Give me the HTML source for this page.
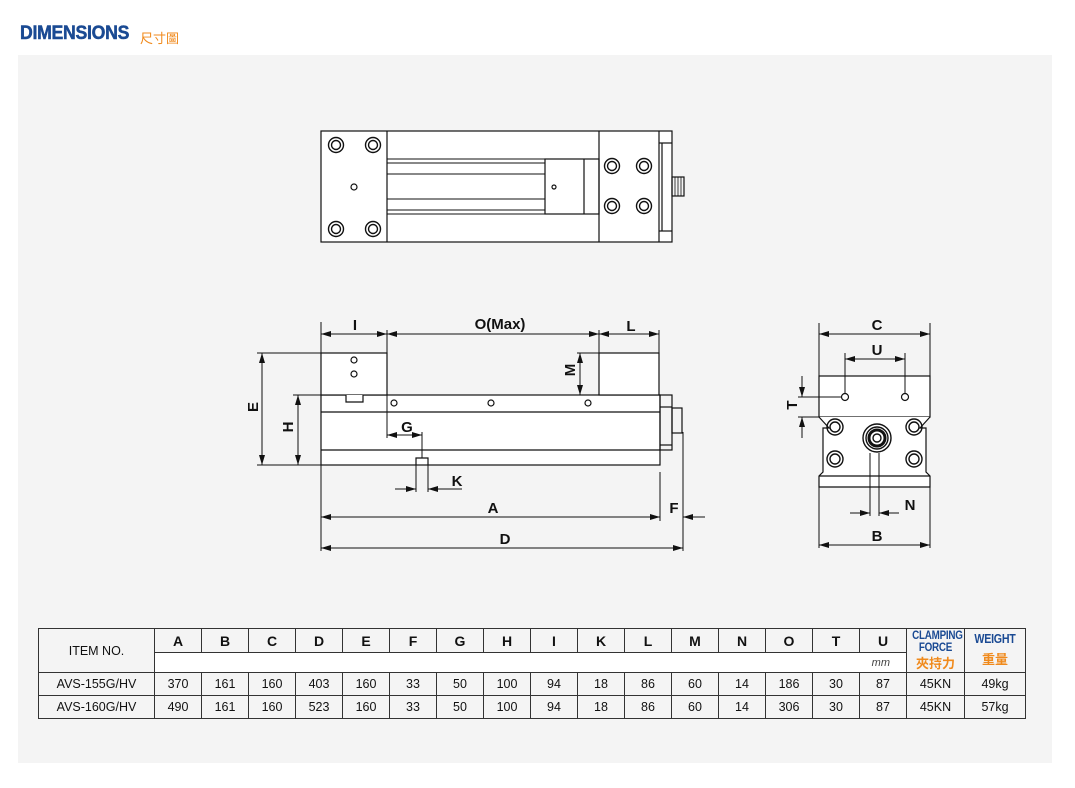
<!DOCTYPE html>
<html><head><meta charset="utf-8"><style>
body{margin:0;background:#fff;width:1075px;height:788px;overflow:hidden;font-family:"Liberation Sans",sans-serif;}
.panel{position:absolute;left:18px;top:55px;width:1034px;height:708px;background:#f4f4f4;}
.title{position:absolute;left:20px;top:23px;font-weight:bold;font-size:19px;color:#1a4a93;transform:scaleX(0.93);transform-origin:left;letter-spacing:-0.3px;-webkit-text-stroke:0.5px #1a4a93}
.cn{position:absolute;left:140px;top:28px;font-size:13px;color:#f08a1c;font-family:"Liberation Sans","Noto Sans CJK TC",sans-serif;}
table{position:absolute;left:38px;top:628px;border-collapse:collapse;font-size:12.5px;color:#111;table-layout:fixed;width:987px}
td{border:1px solid #333;text-align:center;padding:0;height:22px;overflow:hidden;white-space:nowrap}
.h{font-weight:bold;font-size:14px}
.b{color:#1a4a93;font-weight:bold;font-size:12px;line-height:12px;transform:scaleX(.82);letter-spacing:-0.3px}
.o{color:#f08a1c;font-weight:bold;font-size:13px;font-family:"Liberation Sans","Noto Sans CJK TC",sans-serif}
</style></head><body>
<div class="panel"></div>
<div class="title">DIMENSIONS</div>
<div class="cn">尺寸圖</div>
<svg width="1075" height="788" style="position:absolute;left:0;top:0" fill="none" stroke="#111" stroke-width="1.2" font-family="Liberation Sans" font-weight="bold" font-size="15">
<defs><marker id="a" markerWidth="10" markerHeight="6" refX="10" refY="3" orient="auto-start-reverse" markerUnits="userSpaceOnUse"><path d="M0,0 L10,3 L0,6z" fill="#111" stroke="none"/></marker></defs>
<rect x="321" y="131" width="351" height="111" fill="#fff"/>
<line x1="387" y1="131" x2="387" y2="242"/><line x1="599" y1="131" x2="599" y2="242"/><line x1="659" y1="131" x2="659" y2="242"/><line x1="662" y1="143" x2="662" y2="231"/>
<line x1="659" y1="143" x2="672" y2="143"/><line x1="659" y1="231" x2="672" y2="231"/>
<rect x="672" y="177" width="12" height="19"/>
<g stroke-width="0.8"><line x1="675" y1="177" x2="675" y2="196"/><line x1="678" y1="177" x2="678" y2="196"/><line x1="681" y1="177" x2="681" y2="196"/></g>
<g stroke-width="1"><line x1="387" y1="159" x2="599" y2="159"/><line x1="387" y1="163" x2="545" y2="163"/><line x1="387" y1="174" x2="545" y2="174"/><line x1="387" y1="199" x2="545" y2="199"/><line x1="387" y1="210" x2="545" y2="210"/><line x1="387" y1="214" x2="599" y2="214"/></g>
<rect x="545" y="159" width="54" height="55"/><line x1="584" y1="159" x2="584" y2="214"/>
<g stroke-width="1.4"><circle cx="336" cy="145" r="7.5"/><circle cx="336" cy="145" r="4.5"/><circle cx="373" cy="145" r="7.5"/><circle cx="373" cy="145" r="4.5"/><circle cx="336" cy="229" r="7.5"/><circle cx="336" cy="229" r="4.5"/><circle cx="373" cy="229" r="7.5"/><circle cx="373" cy="229" r="4.5"/>
<circle cx="612" cy="166" r="7.5"/><circle cx="612" cy="166" r="4.5"/><circle cx="644" cy="166" r="7.5"/><circle cx="644" cy="166" r="4.5"/><circle cx="612" cy="206" r="7.5"/><circle cx="612" cy="206" r="4.5"/><circle cx="644" cy="206" r="7.5"/><circle cx="644" cy="206" r="4.5"/></g>
<circle cx="354" cy="187" r="3"/><circle cx="554" cy="187" r="2"/>
<rect x="321" y="395" width="339" height="70" fill="#fff"/>
<line x1="321" y1="412" x2="660" y2="412"/><line x1="321" y1="450" x2="660" y2="450"/>
<rect x="321" y="353" width="66" height="42" fill="#fff"/><rect x="599" y="353" width="60" height="42" fill="#fff"/>
<path d="M346,395 V402 H363 V395" fill="#fff"/>
<circle cx="354" cy="360" r="3"/><circle cx="354" cy="374" r="3"/>
<circle cx="394" cy="403" r="3"/><circle cx="491" cy="403" r="3"/><circle cx="588" cy="403" r="3"/>
<rect x="660" y="395" width="12" height="55"/><line x1="660" y1="407" x2="672" y2="407"/><line x1="660" y1="445" x2="672" y2="445"/>
<rect x="672" y="408" width="10" height="25"/>
<path d="M416,465 V458 H428 V465"/>
<g stroke-width="1">
<line x1="321" y1="322" x2="321" y2="353"/><line x1="387" y1="330" x2="387" y2="353"/><line x1="599" y1="330" x2="599" y2="353"/><line x1="659" y1="330" x2="659" y2="353"/>
<line x1="321" y1="334" x2="387" y2="334" marker-start="url(#a)" marker-end="url(#a)"/>
<line x1="387" y1="334" x2="599" y2="334" marker-start="url(#a)" marker-end="url(#a)"/>
<line x1="599" y1="334" x2="659" y2="334" marker-start="url(#a)" marker-end="url(#a)"/>
<line x1="257" y1="353" x2="321" y2="353"/><line x1="257" y1="465" x2="321" y2="465"/><line x1="293" y1="395" x2="321" y2="395"/>
<line x1="262" y1="353" x2="262" y2="465" marker-start="url(#a)" marker-end="url(#a)"/>
<line x1="298" y1="395" x2="298" y2="465" marker-start="url(#a)" marker-end="url(#a)"/>
<line x1="577" y1="353" x2="599" y2="353"/>
<line x1="580" y1="353" x2="580" y2="395" marker-start="url(#a)" marker-end="url(#a)"/>
<line x1="387" y1="395" x2="387" y2="438"/><line x1="422" y1="432" x2="422" y2="458"/>
<line x1="387" y1="435" x2="422" y2="435" marker-start="url(#a)" marker-end="url(#a)"/>
<line x1="416" y1="465" x2="416" y2="492"/><line x1="428" y1="465" x2="428" y2="492"/>
<line x1="395" y1="489" x2="416" y2="489" marker-end="url(#a)"/><line x1="462" y1="489" x2="428" y2="489" marker-end="url(#a)"/>
<line x1="321" y1="465" x2="321" y2="551"/><line x1="660" y1="472" x2="660" y2="521"/><line x1="683" y1="432" x2="683" y2="551"/>
<line x1="321" y1="517" x2="660" y2="517" marker-start="url(#a)" marker-end="url(#a)"/>
<line x1="705" y1="517" x2="683" y2="517" marker-end="url(#a)"/>
<line x1="321" y1="548" x2="683" y2="548" marker-start="url(#a)" marker-end="url(#a)"/>
</g>
<g fill="#111" stroke="none" text-anchor="middle">
<text x="355" y="330">I</text><text x="500" y="329">O(Max)</text><text x="631" y="331">L</text>
<text x="407" y="432">G</text><text x="457" y="486">K</text><text x="493" y="513">A</text><text x="674" y="513">F</text><text x="505" y="544">D</text>
<text transform="translate(258,407) rotate(-90)">E</text><text transform="translate(293,427) rotate(-90)">H</text><text transform="translate(575,370) rotate(-90)">M</text>
<text transform="translate(797,405) rotate(-90)">T</text>
<text x="877" y="330">C</text><text x="877" y="355">U</text><text x="910" y="510">N</text><text x="877" y="541">B</text>
</g>
<rect x="819" y="376" width="111" height="41" fill="#fff"/>
<path d="M819,417 L829,428 H823 V472 L819,476 V487 H930 V476 L926,472 V428 H920 L930,417" fill="#fff"/>
<line x1="819" y1="476" x2="930" y2="476"/>
<g stroke-width="1.4"><circle cx="835" cy="427" r="8"/><circle cx="835" cy="427" r="5"/><circle cx="914" cy="427" r="8"/><circle cx="914" cy="427" r="5"/><circle cx="835" cy="459" r="8"/><circle cx="835" cy="459" r="5"/><circle cx="914" cy="459" r="8"/><circle cx="914" cy="459" r="5"/>
<circle cx="877" cy="438" r="14"/><circle cx="877" cy="438" r="11"/><circle cx="877" cy="438" r="8" stroke-width="3"/><circle cx="877" cy="438" r="4"/></g>
<circle cx="845" cy="397" r="3.5"/><circle cx="905" cy="397" r="3.5"/>
<g stroke-width="1">
<line x1="870" y1="453" x2="870" y2="516"/><line x1="879" y1="453" x2="879" y2="516"/><line x1="868" y1="487" x2="881" y2="487"/>
<line x1="850" y1="513" x2="870" y2="513" marker-end="url(#a)"/><line x1="899" y1="513" x2="879" y2="513" marker-end="url(#a)"/>
<line x1="819" y1="323" x2="819" y2="376"/><line x1="930" y1="323" x2="930" y2="376"/>
<line x1="819" y1="334" x2="930" y2="334" marker-start="url(#a)" marker-end="url(#a)"/>
<line x1="845" y1="353" x2="845" y2="394"/><line x1="905" y1="353" x2="905" y2="394"/>
<line x1="845" y1="359" x2="905" y2="359" marker-start="url(#a)" marker-end="url(#a)"/>
<line x1="798" y1="397" x2="842" y2="397"/><line x1="798" y1="417" x2="819" y2="417"/>
<line x1="802" y1="376" x2="802" y2="397" marker-end="url(#a)"/><line x1="802" y1="438" x2="802" y2="417" marker-end="url(#a)"/>
<line x1="819" y1="487" x2="819" y2="548"/><line x1="930" y1="487" x2="930" y2="548"/>
<line x1="819" y1="545" x2="930" y2="545" marker-start="url(#a)" marker-end="url(#a)"/>
</g>
</svg>
<table>
<colgroup><col style="width:116px"><col span="16" style="width:47px"><col style="width:58px"><col style="width:61px"></colgroup>
<tr><td rowspan="2" style="height:41px">ITEM NO.</td>
<td class="h">A</td><td class="h">B</td><td class="h">C</td><td class="h">D</td><td class="h">E</td><td class="h">F</td><td class="h">G</td><td class="h">H</td><td class="h">I</td><td class="h">K</td><td class="h">L</td><td class="h">M</td><td class="h">N</td><td class="h">O</td><td class="h">T</td><td class="h">U</td>
<td rowspan="2"><div class="b">CLAMPING<br>FORCE</div><div class="o">夾持力</div></td>
<td rowspan="2"><div class="b" style="font-size:13px">WEIGHT</div><div class="o" style="margin-top:4px">重量</div></td></tr>
<tr><td colspan="16" style="background:#fff;height:18px;text-align:right;padding-right:16px;font-style:italic;font-size:11px;color:#444">mm</td></tr>
<tr><td>AVS-155G/HV</td><td>370</td><td>161</td><td>160</td><td>403</td><td>160</td><td>33</td><td>50</td><td>100</td><td>94</td><td>18</td><td>86</td><td>60</td><td>14</td><td>186</td><td>30</td><td>87</td><td>45KN</td><td>49kg</td></tr>
<tr><td>AVS-160G/HV</td><td>490</td><td>161</td><td>160</td><td>523</td><td>160</td><td>33</td><td>50</td><td>100</td><td>94</td><td>18</td><td>86</td><td>60</td><td>14</td><td>306</td><td>30</td><td>87</td><td>45KN</td><td>57kg</td></tr>
</table>
</body></html>
